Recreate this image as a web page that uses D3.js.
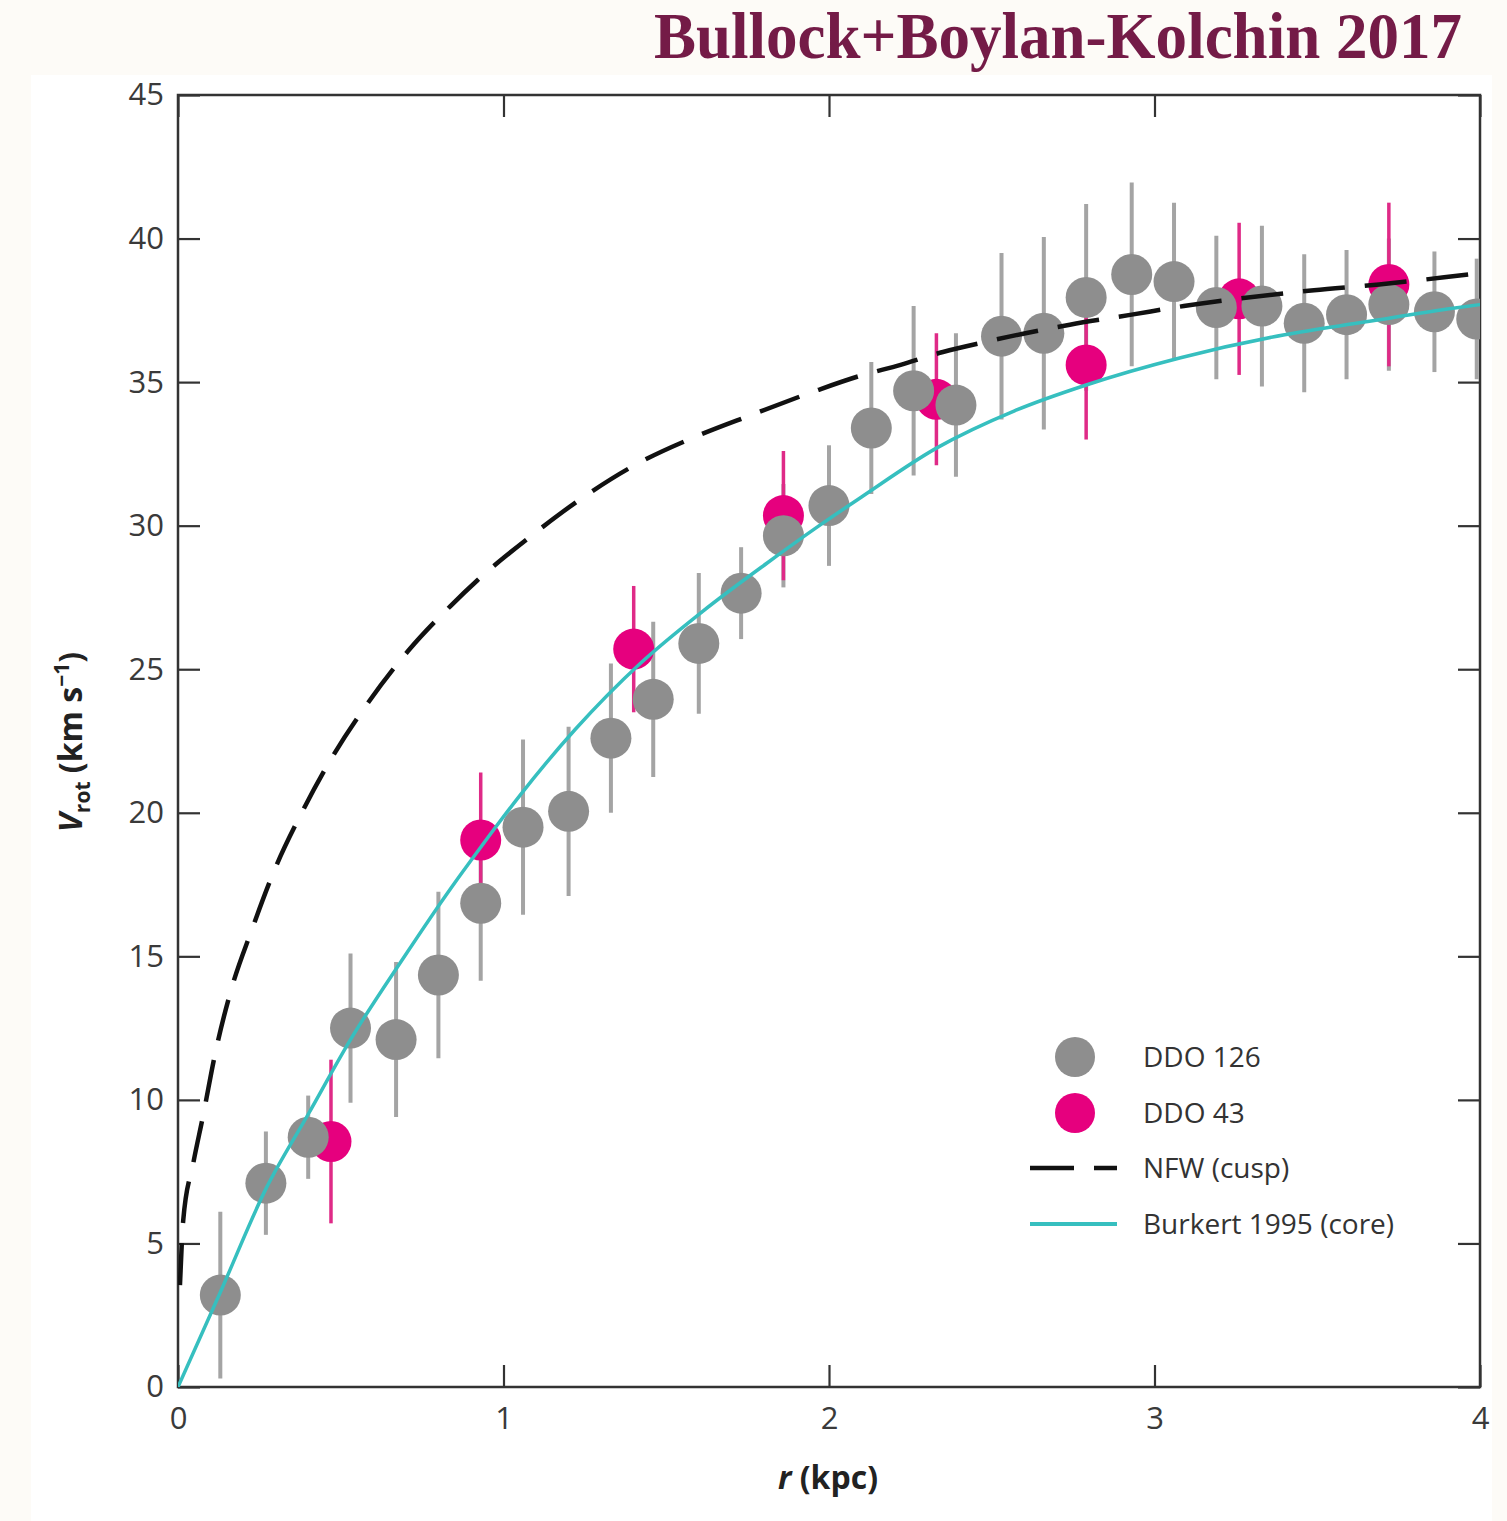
<!DOCTYPE html>
<html>
<head>
<meta charset="utf-8">
<script src="https://cdn.jsdelivr.net/npm/d3@7"></script>
<style>
  body { margin: 0; background: #fdfbf7; }
  svg { display: block; }
</style>
</head>
<body>
<svg width="1507" height="1521"></svg>
<script>
    // DDO 126 rotation curve (grey)
    var ddo126R = [0.13, 0.27, 0.40, 0.53, 0.67, 0.80, 0.93, 1.06, 1.20, 1.33, 1.46, 1.60, 1.73, 1.86, 2.00,
      2.13, 2.26, 2.39, 2.53, 2.66, 2.79, 2.93, 3.06, 3.19, 3.33, 3.46, 3.59, 3.72, 3.86, 3.99]
    var ddo126V = [3.2, 7.1, 8.7, 12.5, 12.1, 14.35, 16.85, 19.5, 20.05, 22.6, 23.95, 25.9, 27.65, 29.65, 30.7,
      33.4, 34.7, 34.2, 36.6, 36.7, 37.95, 38.75, 38.5, 37.6, 37.65, 37.05, 37.35, 37.7, 37.45, 37.2]
    var ddo126Err = [2.9, 1.8, 1.45, 2.6, 2.7, 2.9, 2.7, 3.05, 2.95, 2.6, 2.7, 2.45, 1.6, 1.8, 2.1,
      2.3, 2.95, 2.5, 2.9, 3.35, 3.25, 3.2, 2.75, 2.5, 2.8, 2.4, 2.25, 2.3, 2.1, 2.1]

    // DDO 43 rotation curve (magenta)
    var ddo43R = [0.47, 0.93, 1.40, 1.86, 2.33, 2.79, 3.26, 3.72]
    var ddo43V = [8.55, 19.05, 25.7, 30.35, 34.4, 35.6, 37.9, 38.4]
    var ddo43Err = [2.85, 2.35, 2.2, 2.25, 2.3, 2.6, 2.65, 2.85]

    // model curves
    var nfwR = [0.006, 0.016, 0.047, 0.078, 0.114, 0.165, 0.226, 0.298, 0.38, 0.477, 0.585, 0.708, 0.837, 0.92,
      1.08, 1.24, 1.41, 1.59, 1.76, 1.96, 2.09, 2.22, 2.35, 2.48, 2.74, 2.93, 3.09, 3.49, 3.69, 3.89, 4.0]
    var nfwV = [3.55, 5.8, 7.8, 9.5, 11.6, 13.9, 15.9, 18.05, 20.0, 22.0, 23.85, 25.65, 27.2, 28.1,
      29.6, 30.95, 32.15, 33.1, 33.85, 34.7, 35.2, 35.6, 36.05, 36.4, 37.0, 37.35, 37.65, 38.2, 38.4, 38.65, 38.8]

    var burkertR = [0, 0.13, 0.27, 0.40, 0.53, 0.69, 0.84, 0.93, 1.05, 1.22, 1.42, 1.61, 1.81, 1.97, 2.10,
      2.33, 2.57, 2.79, 3.08, 3.40, 3.65, 3.90, 4.0]
    var burkertV = [0, 3.3, 6.9, 9.5, 12.1, 14.9, 17.4, 18.8, 20.6, 22.9, 25.2, 27.0, 28.7, 30.0, 31.0,
      32.7, 34.0, 34.9, 35.85, 36.65, 37.1, 37.55, 37.7]

    var xTicks = [0, 1, 2, 3, 4]
    var yTicks = [0, 5, 10, 15, 20, 25, 30, 35, 40, 45]
    var legendLabels = ['DDO 126', 'DDO 43', 'NFW (cusp)', 'Burkert 1995 (core)']

    var width = 1507
    var height = 1521
    var margin = {top: 95, right: 27, bottom: 134, left: 178}
    var font = "'Open Sans', 'Noto Sans', sans-serif"
    var ink = '#333'

    var xScale = d3.scaleLinear()
      .domain([0, 4])
      .range([margin.left, width - margin.right])

    var yScale = d3.scaleLinear()
      .domain([0, 45])
      .range([height - margin.bottom, margin.top])

    var svg = d3.select('svg')

    // white panel behind the chart
    svg.append('rect')
      .attr('x', 31).attr('y', 75)
      .attr('width', 1461).attr('height', height - 75)
      .attr('fill', '#fff')

    svg.append('text')
      .attr('x', 1462).attr('y', 58)
      .attr('text-anchor', 'end')
      .attr('font-family', "'Liberation Serif', 'DejaVu Serif', serif")
      .attr('font-weight', 'bold')
      .attr('font-size', 66)
      .attr('textLength', 808)
      .attr('lengthAdjust', 'spacingAndGlyphs')
      .attr('fill', '#741b47')
      .text('Bullock+Boylan-Kolchin 2017')

    svg.append('clipPath').attr('id', 'plot')
      .append('rect')
      .attr('x', margin.left).attr('y', margin.top)
      .attr('width', xScale(4) - xScale(0)).attr('height', yScale(0) - yScale(45))

    // axes: ticks point inward on every side
    var yLeft = d3.axisLeft(yScale).tickValues(yTicks).tickSize(-22).tickSizeOuter(0).tickPadding(14)
    var yRight = d3.axisRight(yScale).tickValues(yTicks).tickSize(-22).tickSizeOuter(0).tickFormat('')
    var xBottom = d3.axisBottom(xScale).tickValues(xTicks).tickSize(-22).tickSizeOuter(0).tickPadding(20)
      .tickFormat(d3.format('d'))
    var xTop = d3.axisTop(xScale).tickValues(xTicks).tickSize(-22).tickSizeOuter(0).tickFormat('')

    function styleAxis(g) {
      g.select('.domain').remove()
      g.selectAll('line').attr('stroke', ink).attr('stroke-width', 2.2)
      g.selectAll('text').attr('font-family', font).attr('font-size', 31).attr('fill', '#3a3a3a')
    }

    svg.append('g').attr('transform', 'translate(' + [margin.left, 0] + ')').call(yLeft).call(styleAxis)
    svg.append('g').attr('transform', 'translate(' + [width - margin.right, 0] + ')').call(yRight).call(styleAxis)
    svg.append('g').attr('transform', 'translate(' + [0, height - margin.bottom] + ')').call(xBottom).call(styleAxis)
    svg.append('g').attr('transform', 'translate(' + [0, margin.top] + ')').call(xTop).call(styleAxis)

    svg.append('rect')
      .attr('x', xScale(0)).attr('y', yScale(45))
      .attr('width', xScale(4) - xScale(0)).attr('height', yScale(0) - yScale(45))
      .attr('fill', 'none').attr('stroke', ink).attr('stroke-width', 2.5)

    var ddo126 = ddo126R.map((r, i) => ({r: r, v: ddo126V[i], e: ddo126Err[i]}))
    var ddo43 = ddo43R.map((r, i) => ({r: r, v: ddo43V[i], e: ddo43Err[i]}))

    var marks = svg.append('g').attr('clip-path', 'url(#plot)')

    marks.selectAll('.err126')
      .data(ddo126)
      .enter().append('line')
      .attr('x1', d => xScale(d.r)).attr('x2', d => xScale(d.r))
      .attr('y1', d => yScale(d.v - d.e)).attr('y2', d => yScale(d.v + d.e))
      .attr('stroke', '#a4a4a4').attr('stroke-width', 4)

    marks.selectAll('.err43')
      .data(ddo43)
      .enter().append('line')
      .attr('x1', d => xScale(d.r)).attr('x2', d => xScale(d.r))
      .attr('y1', d => yScale(d.v - d.e)).attr('y2', d => yScale(d.v + d.e))
      .attr('stroke', '#df2a87').attr('stroke-width', 3.5)

    marks.selectAll('.dot43')
      .data(ddo43)
      .enter().append('circle')
      .attr('cx', d => xScale(d.r)).attr('cy', d => yScale(d.v))
      .attr('r', 20.5)
      .attr('fill', '#e6007e')

    marks.selectAll('.dot126')
      .data(ddo126)
      .enter().append('circle')
      .attr('cx', d => xScale(d.r)).attr('cy', d => yScale(d.v))
      .attr('r', 20.5)
      .attr('fill', '#8e8e8e')

    var line = d3.line()
      .x(d => xScale(d[0]))
      .y(d => yScale(d[1]))
      .curve(d3.curveMonotoneX)

    marks.append('path')
      .attr('d', line(d3.zip(burkertR, burkertV)))
      .attr('fill', 'none').attr('stroke', '#36bfbf').attr('stroke-width', 3.5)

    marks.append('path')
      .attr('d', line(d3.zip(nfwR, nfwV)))
      .attr('fill', 'none').attr('stroke', '#111').attr('stroke-width', 4.5)
      .attr('stroke-dasharray', '42,20')

    // axis titles
    var yTitle = svg.append('text')
      .attr('transform', 'translate(82,742) rotate(-90)')
      .attr('text-anchor', 'middle')
      .attr('font-family', font).attr('font-weight', 'bold').attr('font-size', 32)
      .attr('fill', '#222')
    yTitle.append('tspan').attr('font-style', 'italic').text('V')
    yTitle.append('tspan').attr('font-size', 21).attr('dy', 8).text('rot')
    yTitle.append('tspan').attr('dy', -8).text(' (km s')
    yTitle.append('tspan').attr('font-size', 21).attr('dy', -13).text('\u22121')
    yTitle.append('tspan').attr('dy', 13).text(')')

    var xTitle = svg.append('text')
      .attr('x', 828).attr('y', 1489)
      .attr('text-anchor', 'middle')
      .attr('font-family', font).attr('font-weight', 'bold').attr('font-size', 32)
      .attr('fill', '#222')
    xTitle.append('tspan').attr('font-style', 'italic').text('r')
    xTitle.append('tspan').text(' (kpc)')

    // legend
    var legendY = [1057, 1113, 1168, 1224]
    var legend = svg.append('g')

    legend.append('circle').attr('cx', 1075).attr('cy', legendY[0]).attr('r', 20).attr('fill', '#8e8e8e')
    legend.append('circle').attr('cx', 1075).attr('cy', legendY[1]).attr('r', 20).attr('fill', '#e6007e')
    legend.append('line')
      .attr('x1', 1030).attr('x2', 1117).attr('y1', legendY[2]).attr('y2', legendY[2])
      .attr('stroke', '#111').attr('stroke-width', 4.5).attr('stroke-dasharray', '44,20')
    legend.append('line')
      .attr('x1', 1030).attr('x2', 1117).attr('y1', legendY[3]).attr('y2', legendY[3])
      .attr('stroke', '#36bfbf').attr('stroke-width', 4)

    legend.selectAll('text')
      .data(legendLabels)
      .enter().append('text')
      .attr('x', 1143)
      .attr('y', (d, i) => legendY[i])
      .attr('dy', '0.35em')
      .attr('font-family', font).attr('font-size', 28)
      .attr('fill', '#333')
      .text(d => d)
</script>
</body>
</html>
